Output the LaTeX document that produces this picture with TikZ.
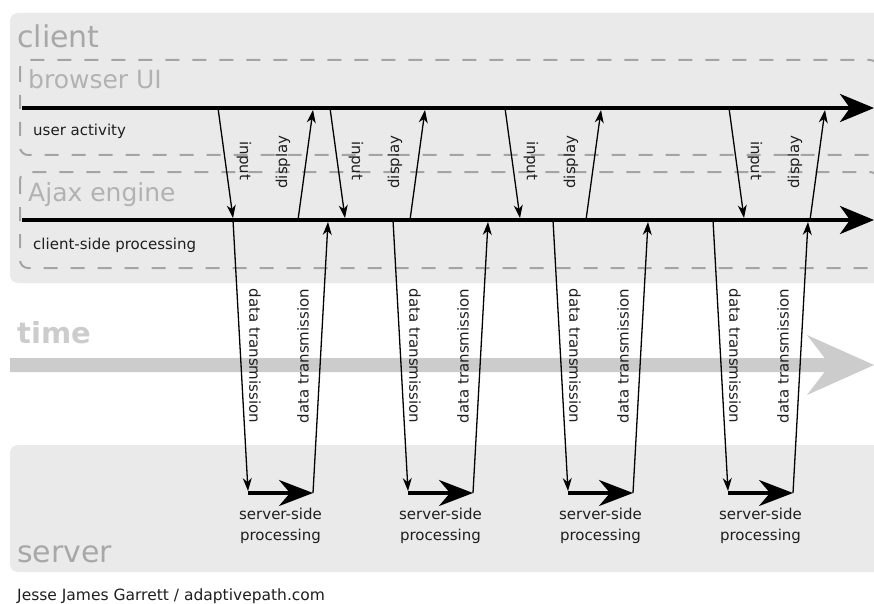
\documentclass[tikz,border=0pt]{standalone}
\usepackage{fontspec}
\setmainfont{DejaVu Sans}
\usetikzlibrary{arrows.meta}
\definecolor{panel}{HTML}{EAEAEA}
\definecolor{biglbl}{HTML}{A8A8A8}
\definecolor{sublbl}{HTML}{B2B2B2}
\definecolor{dashc}{HTML}{A4A4A4}
\definecolor{timec}{HTML}{CCCCCC}
\definecolor{ink}{HTML}{1E1E1E}
\begin{document}
\begin{tikzpicture}[x=1pt,y=-1pt,
  panelbox/.style={fill=panel,draw=none,rounded corners=8pt},
  dashbox/.style={draw=dashc,line width=2pt,dash pattern=on 14pt off 13pt,rounded corners=8pt},
  biglabel/.style={font=\fontsize{30}{30}\selectfont,text=biglbl,inner sep=0pt,anchor=base west},
  sublabel/.style={font=\fontsize{25}{25}\selectfont,text=sublbl,inner sep=0pt,anchor=base west},
  smalltxt/.style={font=\fontsize{15}{21}\selectfont,text=ink,inner sep=0pt},
  timeline/.style={line width=4pt,-{Stealth[length=34pt,width=28pt,inset=10pt]}},
  thinarrow/.style={line width=1.3pt,-{Stealth[length=13pt,width=9pt,inset=4pt]}},
  serverarrow/.style={line width=3.5pt,-{Stealth[length=34pt,width=26pt,inset=11pt]}}]
\useasboundingbox (0,0) rectangle (874,604);
% panels
\fill[panel,rounded corners=8pt] (10,13) rectangle (900,283);
\fill[panel,rounded corners=8pt] (10,445) rectangle (900,572);
% time arrow
\fill[timec] (10,358) -- (824.6,358) -- (807,335) -- (874,365) -- (807,395) -- (824.6,372) -- (10,372) -- cycle;
\node[font=\bfseries\fontsize{29}{29}\selectfont,text=timec,inner sep=0pt,anchor=base west] (time) at (17,343) {time};
% dashed boxes
\draw[dashbox] (20,60) rectangle (878,155);
\draw[dashbox] (20,172) rectangle (878,268);
% labels
\node[biglabel] (client) at (17,48) {client};
\node[biglabel] (server) at (17,562) {server};
\node[sublabel] (browser) at (28,89) {browser UI};
\node[sublabel] (ajax) at (28,201) {Ajax engine};
\node[smalltxt,anchor=base west] (useract) at (33,136) {user activity};
\node[smalltxt,anchor=base west] (csp) at (33,249) {client-side processing};
\node[font=\fontsize{15.5}{18}\selectfont,text=ink,inner sep=0pt,anchor=base west] (caption) at (17,600) {Jesse James Garrett / adaptivepath.com};
% main timelines
\coordinate (ua0) at (22,108);
\coordinate (ua1) at (874,108);
\coordinate (cs0) at (22,220);
\coordinate (cs1) at (874,220);
\draw[timeline] (ua0) -- (ua1);
\draw[timeline] (cs0) -- (cs1);
% input / display
\foreach \xi/\xd [count=\n] in {218/298,330/410,505/586,729/810}{
  \coordinate (in\n a) at (\xi,108);
  \coordinate (in\n b) at (\xi+15,218);
  \coordinate (di\n a) at (\xd,220);
  \coordinate (di\n b) at (\xd+15,110);
  \draw[thinarrow] (in\n a) -- (in\n b);
  \draw[thinarrow] (di\n a) -- (di\n b);
  \node[smalltxt,rotate=-90] (inl\n) at (\xi+26,161) {input};
  \node[smalltxt,rotate=90] (dil\n) at (\xd-15,162) {display};
}
% data transmission / server-side processing
\foreach \x [count=\n] in {233,393,553,713}{
  \coordinate (dd\n a) at (\x,220);
  \coordinate (dd\n b) at (\x+15,491);
  \coordinate (sp\n a) at (\x+15,493);
  \coordinate (sp\n b) at (\x+80,493);
  \coordinate (du\n b) at (\x+95,222);
  \draw[thinarrow] (dd\n a) -- (dd\n b);
  \draw[serverarrow] (sp\n a) -- (sp\n b);
  \draw[thinarrow] (sp\n b) -- (du\n b);
  \node[smalltxt,rotate=-90] (ddl\n) at (\x+22,356) {data transmission};
  \node[smalltxt,rotate=90] (dul\n) at (\x+70,356) {data transmission};
  \node[smalltxt,align=center,anchor=north] (spl\n) at (\x+47.5,508) {server-side\\processing};
}
\end{tikzpicture}
\end{document}
